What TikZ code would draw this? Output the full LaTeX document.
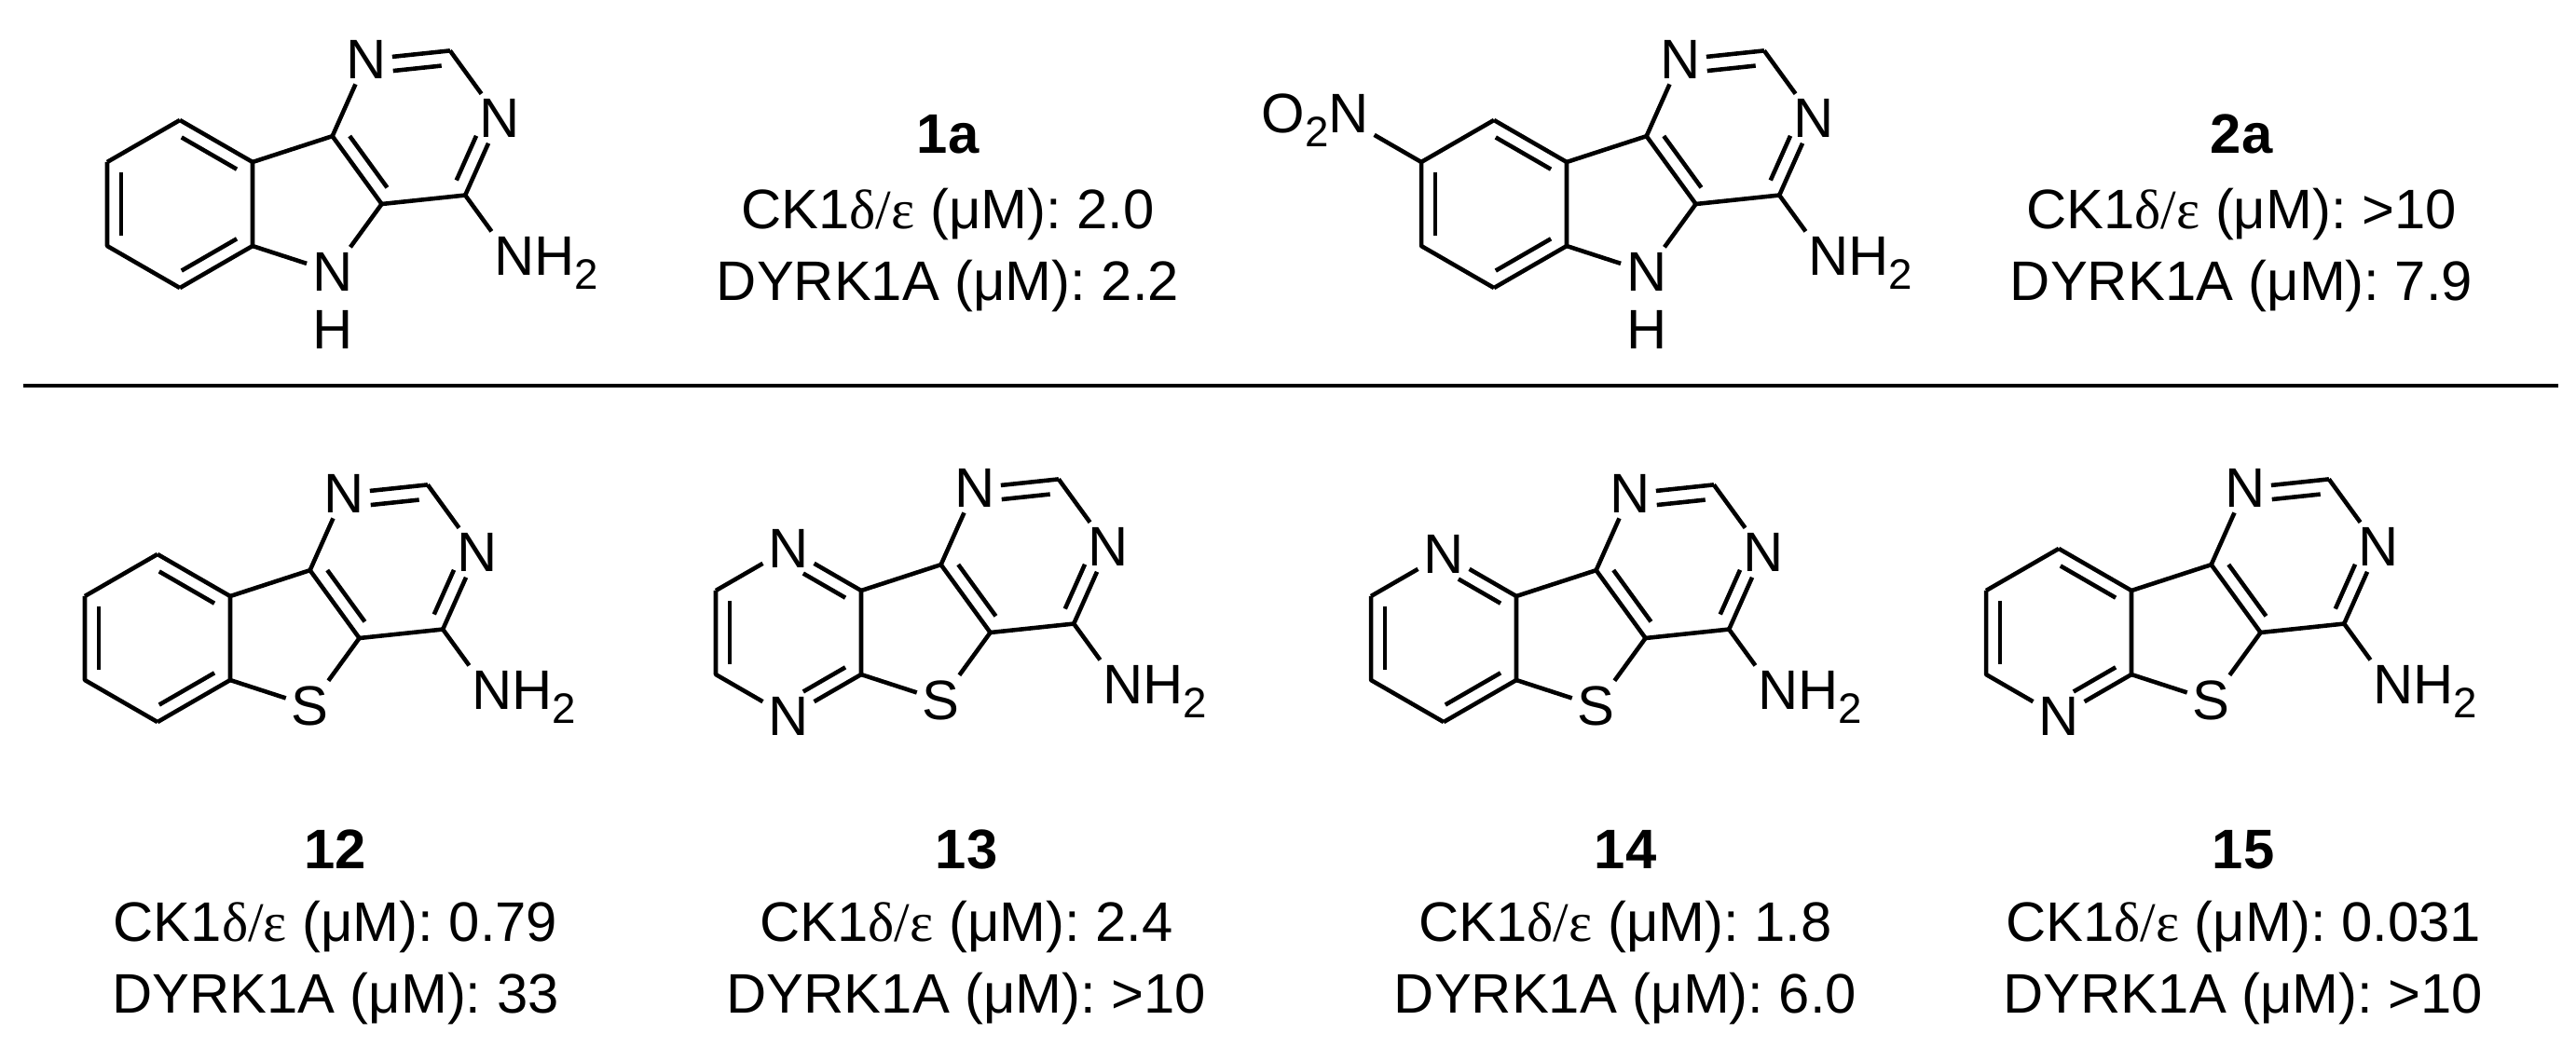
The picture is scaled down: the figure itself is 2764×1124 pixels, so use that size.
\documentclass[tikz,border=0pt]{standalone}
\usepackage{fontspec}
\setmainfont{Liberation Sans}
\newfontfamily\grk{Liberation Serif}
\usetikzlibrary{calc}
\newcommand\sub[1]{\raisebox{-0.25em}{\fontsize{13}{13}\selectfont #1}}
\newcommand\atomv[3]{\def\tmpa{#3}\def\tmpc{C}\ifx\tmpa\tmpc\coordinate (#1) at (#2);\else\node[atom] (#1) at (#2) {#3};\fi}
\newcommand\innerb[4]{%
  \path ($(#1)!#3!(#2)$) coordinate (tmpP);
  \path ($(#2)!#4!(#1)$) coordinate (tmpQ);
  \draw[bond] ($(tmpP)!4.3pt!90:(#2)$) -- ($(tmpQ)!4.3pt!-90:(#1)$);}
\newcommand\mol[8]{%
\begin{scope}[shift={(#2,#3)},x=0.9cm,y=0.9cm]
\atomv{#1b90}{0,1}{#4}
\coordinate (#1b30) at (0.866,0.5);
\coordinate (#1b330) at (0.866,-0.5);
\atomv{#1b270}{0,-1}{#5}
\coordinate (#1b210) at (-0.866,-0.5);
\coordinate (#1b150) at (-0.866,0.5);
\coordinate (#1c9b) at (1.817,0.809);
\coordinate (#1c4a) at (2.405,0);
\node[atom] (#1x) at (1.817,-0.809) {#6};
\node[atom] (#1n1) at (2.224,1.723) {N};
\coordinate (#1c2) at (3.219,1.828);
\node[atom] (#1n3) at (3.807,1.019) {N};
\coordinate (#1c4) at (3.400,0.105);
\node[atom] (#1nh2) at (3.988,-0.704) {N\rlap{H\sub{2}}};
\end{scope}
\draw[bond] (#1b30)--(#1b90) (#1b90)--(#1b150);
\draw[bond] (#1b150)--(#1b210)--(#1b270) (#1b270)--(#1b330)--(#1b30);
\draw[bond] (#1b330)--(#1x) (#1x)--(#1c4a) (#1c4a)--(#1c9b);
\draw[bond] (#1b30)--(#1c9b);
\draw[bond] (#1c9b)--(#1n1) (#1n1)--(#1c2) (#1c2)--(#1n3) (#1n3)--(#1c4)--(#1c4a) (#1c4)--(#1nh2);
\innerb{#1b30}{#1b90}{0.12}{#7}
\innerb{#1b150}{#1b210}{0.12}{0.12}
\innerb{#1b270}{#1b330}{#8}{0.12}
\innerb{#1c9b}{#1c4a}{0.12}{0.12}
\innerb{#1c4}{#1n3}{0.12}{0.3}
\innerb{#1c2}{#1n1}{0.12}{0.3}
}
\tikzset{
  bond/.style={line width=1.3pt,line join=round},
  atom/.style={inner sep=1.5pt,font=\fontsize{17}{17}\selectfont},
  cmpd/.style={anchor=base,font=\fontsize{17}{17}\selectfont\bfseries,inner sep=0pt},
  val/.style={anchor=base,font=\fontsize{17}{17}\selectfont,inner sep=0pt}
}
\begin{document}
\begin{tikzpicture}[x=0.01cm,y=-0.01cm]
\useasboundingbox (0,0) rectangle (2764,1124);
% top row
\mol{a}{193}{219}{C}{C}{N}{0.12}{0.12}
\node[atom] (aH) at ($(ax)+(0,-0.62cm)$) {H};
\mol{b}{1603}{219}{C}{C}{N}{0.12}{0.12}
\node[atom] (bH) at ($(bx)+(0,-0.62cm)$) {H};
\node[atom] (bno2) at ($(bb150)+(150:0.9cm)$) {\llap{O\sub{2}}N};
\draw[bond] (bb150)--(bno2);
\node[cmpd] (t1a) at (1017,164) {1a};
\node[val] (t1b) at (1017,245) {CK1{\grk δ/ε} (μM): 2.0};
\node[val] (t1c) at (1017,322) {DYRK1A (μM): 2.2};
\node[cmpd] (t2a) at (2405,164) {2a};
\node[val] (t2b) at (2405,245) {CK1{\grk δ/ε} (μM): >10};
\node[val] (t2c) at (2405,322) {DYRK1A (μM): 7.9};
% rule
\coordinate (r1) at (25,414);
\coordinate (r2) at (2745,414);
\draw[line width=1.2pt] (r1)--(r2);
% bottom row
\mol{c}{169}{685}{C}{C}{S}{0.12}{0.12}
\mol{d}{846}{679}{N}{N}{S}{0.3}{0.3}
\mol{e}{1549}{685}{N}{C}{S}{0.3}{0.12}
\mol{f}{2209}{679}{C}{N}{S}{0.12}{0.3}
\foreach \n/\x/\ck/\dy in {12/360/0.79/33, 13/1037/2.4/>10, 14/1744/1.8/6.0, 15/2407/0.031/>10}{
  \node[cmpd] (n\n) at (\x,932) {\n};
  \node[val] (ck\n) at (\x,1010) {CK1{\grk δ/ε} (μM): \ck};
  \node[val] (dy\n) at (\x,1087) {DYRK1A (μM): \dy};
}
\end{tikzpicture}
\end{document}
